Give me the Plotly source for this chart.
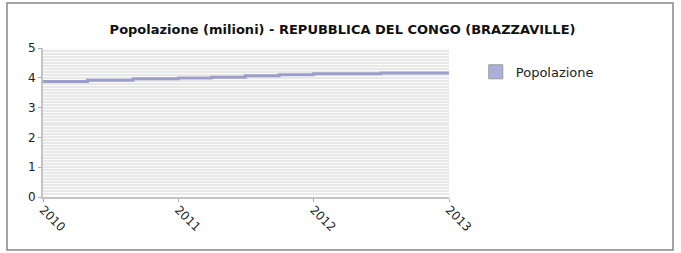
import plotly.graph_objects as go

# Data (step line)
dates = ["2010-01-01", "2010-05-01", "2010-09-01", "2011-01-01", "2011-04-01",
         "2011-07-01", "2011-10-01", "2012-01-01", "2012-07-01", "2013-01-01"]
popolazione = [3.88, 3.92, 3.97, 3.99, 4.02, 4.07, 4.10, 4.14, 4.16, 4.16]
series_name = "Popolazione"
title_text = "Popolazione (milioni) - REPUBBLICA DEL CONGO (BRAZZAVILLE)"
year_ticks = ["2010-01-01", "2011-01-01", "2012-01-01", "2013-01-01"]
year_labels = ["2010", "2011", "2012", "2013"]

fig = go.Figure()
fig.add_trace(go.Scatter(
    x=dates, y=popolazione, mode="lines", line_shape="hv",
    line=dict(color="#9d9dcb", width=3), showlegend=False, hoverinfo="x+y",
))
# legend swatch
fig.add_trace(go.Scatter(
    x=[None], y=[None], mode="markers", name=series_name,
    marker=dict(symbol="square", size=14, color="#aeaedd",
                line=dict(color="#9a9a9a", width=1)),
))

fig.update_layout(
    width=681, height=253,
    margin=dict(l=43, r=232, t=48, b=56, autoexpand=False),
    paper_bgcolor="white", plot_bgcolor="#fbfbfb",
    font=dict(family="DejaVu Sans", size=12, color="#222222"),
    title=dict(text="<b>" + title_text + "</b>", x=0.503, xanchor="center",
               y=0.885, yanchor="middle", font=dict(size=13, color="#111111")),
    legend=dict(x=1.066, y=0.84, xanchor="left", yanchor="middle",
                font=dict(size=13, color="#222222"), bgcolor="rgba(0,0,0,0)",
                itemwidth=30),
    showlegend=True,
    shapes=[dict(type="rect", xref="paper", yref="paper",
                 x0=-0.0887, x1=1.5517, y0=-0.356, y1=1.302,
                 line=dict(color="#888888", width=1.5), layer="below")],
)
fig.update_xaxes(
    type="date", range=["2010-01-01", "2013-01-01"],
    tickvals=year_ticks, ticktext=year_labels, tickangle=45,
    showgrid=False, zeroline=False,
    showline=True, linecolor="#c4c4c4", linewidth=2,
    ticks="outside", ticklen=3, tickcolor="#aaaaaa", ticklabelstandoff=-4,
    tickfont=dict(size=12, color="#222222"),
)
fig.update_yaxes(
    range=[0, 5], dtick=1, showgrid=True, gridcolor="#e8e8e8", gridwidth=1.5,
    minor=dict(dtick=0.1, showgrid=True, gridcolor="#e8e8e8", gridwidth=1.5),
    zeroline=False, showline=True, linecolor="#c4c4c4", linewidth=2,
    ticks="outside", ticklen=3, tickcolor="#aaaaaa",
    tickfont=dict(size=12, color="#222222"),
)

fig.write_html("out.html", config={"displayModeBar": False},
               post_script="document.body.style.margin='0';document.body.style.overflow='hidden';")
